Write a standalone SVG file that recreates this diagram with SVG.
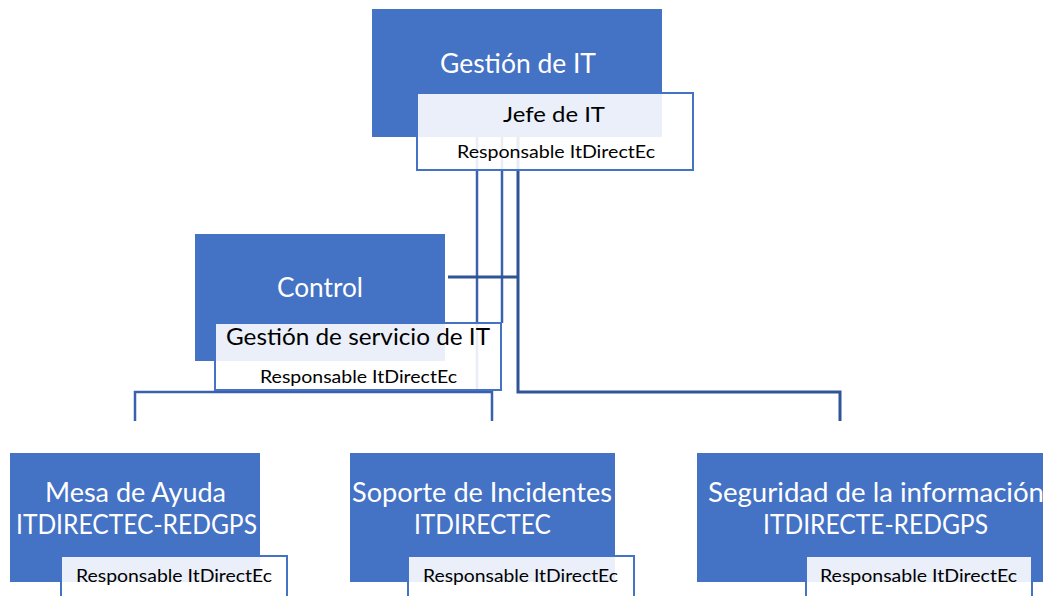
<svg xmlns="http://www.w3.org/2000/svg" width="1043" height="596" viewBox="0 0 1043 596">
<style>
.blue{fill:#4472C4}
.sub{fill:#FFFFFF;fill-opacity:0.89;stroke:#4472C4;stroke-width:2}
.conn{fill:none;stroke:#3A62AC;stroke-width:2.5}
.conn2{fill:none;stroke:#2F5597;stroke-width:3}
text{font-family:Lato,"Open Sans","Liberation Sans",sans-serif}
.w{fill:#FFFFFF;font-size:26px}
.k{fill:#000000}
.r{fill:#000000;font-size:18px}
</style>
<rect width="1043" height="596" fill="#FFFFFF"/>
<g id="connectors">
<path class="conn" d="M477,137 V392"/>
<path class="conn" d="M135,421 V392 H492 V421"/>
<path class="conn" d="M502,137 V323"/>
<path class="conn2" d="M518,137 V392 H840 V421"/>
<path class="conn2" d="M448,277 H518"/>
</g>
<g id="node-gestion-it">
<rect class="blue" x="372" y="9" width="290" height="128"/>
<text class="w" x="440" y="73" textLength="156" lengthAdjust="spacingAndGlyphs">Gestión de IT</text>
<rect class="sub" x="417" y="93" width="276" height="77"/>
<text class="k" x="503" y="122" font-size="22" textLength="102" lengthAdjust="spacingAndGlyphs">Jefe de IT</text>
<text class="r" x="457" y="158" textLength="198" lengthAdjust="spacingAndGlyphs">Responsable ItDirectEc</text>
</g>
<g id="node-control">
<rect class="blue" x="195" y="234" width="250" height="127"/>
<text class="w" x="277" y="297" textLength="86" lengthAdjust="spacingAndGlyphs">Control</text>
<rect class="sub" x="215" y="323" width="286" height="67"/>
<text class="k" x="226" y="345" font-size="23.5" textLength="264" lengthAdjust="spacingAndGlyphs">Gestión de servicio de IT</text>
<text class="r" x="260" y="383" textLength="197" lengthAdjust="spacingAndGlyphs">Responsable ItDirectEc</text>
</g>
<g id="node-mesa">
<rect class="blue" x="10" y="453" width="250" height="129"/>
<text class="w" x="45" y="502" textLength="181" lengthAdjust="spacingAndGlyphs">Mesa de Ayuda</text>
<text class="w" x="16" y="534" textLength="241" lengthAdjust="spacingAndGlyphs">ITDIRECTEC-REDGPS</text>
<rect class="sub" x="61" y="556" width="226" height="50"/>
<text class="r" x="76" y="582" textLength="196" lengthAdjust="spacingAndGlyphs">Responsable ItDirectEc</text>
</g>
<g id="node-soporte">
<rect class="blue" x="350" y="453" width="265" height="129"/>
<text class="w" x="352" y="502" textLength="260" lengthAdjust="spacingAndGlyphs">Soporte de Incidentes</text>
<text class="w" x="414" y="534" textLength="137" lengthAdjust="spacingAndGlyphs">ITDIRECTEC</text>
<rect class="sub" x="408" y="556" width="226" height="50"/>
<text class="r" x="423" y="582" textLength="195" lengthAdjust="spacingAndGlyphs">Responsable ItDirectEc</text>
</g>
<g id="node-seguridad">
<rect class="blue" x="697" y="453" width="360" height="129"/>
<text class="w" x="708" y="502" textLength="336" lengthAdjust="spacingAndGlyphs">Seguridad de la información</text>
<text class="w" x="763" y="534" textLength="225" lengthAdjust="spacingAndGlyphs">ITDIRECTE-REDGPS</text>
<rect class="sub" x="806" y="556" width="226" height="50"/>
<text class="r" x="820" y="582" textLength="197" lengthAdjust="spacingAndGlyphs">Responsable ItDirectEc</text>
</g>
</svg>
